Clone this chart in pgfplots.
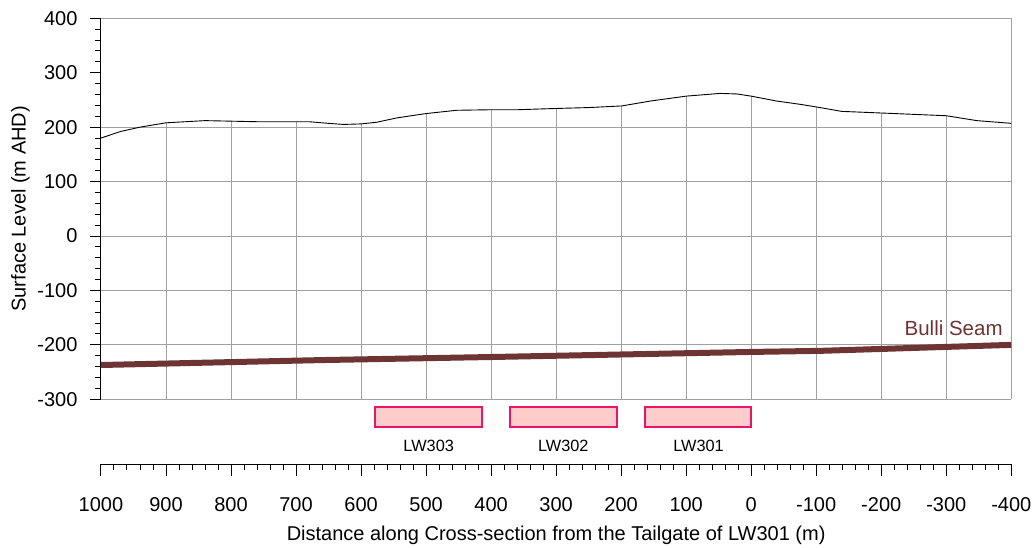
\documentclass[border=0pt]{standalone}
\usepackage{pgfplots}
\pgfplotsset{compat=1.18}
\usepackage{pgfplotstable}
\usepackage{fontspec}
\setmainfont{Liberation Sans}
\definecolor{seam}{RGB}{110,52,52}
\definecolor{lwedge}{RGB}{235,20,105}
\definecolor{lwfill}{RGB}{255,204,204}
\definecolor{gridc}{RGB}{160,160,160}

\pgfplotstableread{
x y
1000 180
970 192
940 200
900 208
840 212
800 211
760 210
700 210
680 210
650 207
627 205
600 206
576 209
545 217
500 225
453 231
400 232
360 232
309 234
250 236
199 239
155 248
100 257
48 262
22 261
0 257
-39 248
-75 242
-101 237
-139 229
-200 226
-300 221
-347 212
-400 207
}\surface

\pgfplotstableread{
x y
1000 -237
663 -228
386 -222
0 -213
-106 -211
-400 -200
}\seamdata

\begin{document}
\begin{tikzpicture}[x=1pt,y=1pt]
\pgfplotsset{
  common/.style={scale only axis, width=910.3pt, height=381pt,
    xmin=-400, xmax=1000, x dir=reverse, ymin=-300, ymax=400,
    at={(101pt,145.7pt)}, anchor=south west},
  every tick label/.append style={font=\fontsize{20}{24}\selectfont},
  /pgf/number format/assume math mode=true,
  /pgf/number format/set thousands separator={},
}
% horizontal grid, frame and data
\begin{axis}[common, xtick={-400}, ytick={-300,-200,-100,0,100,200,400},
  xticklabels={}, yticklabels={}, major tick length=0pt, grid=major,
  grid style={gridc, line width=1pt}, axis line style={draw=none}, clip=false,
  unbounded coords=jump]
% vertical grid lines, from -300 up to the ground surface
\addplot[gridc, line width=1pt] coordinates {
 (900,-300) (900,208) (900,nan)
 (800,-300) (800,211) (800,nan)
 (700,-300) (700,210) (700,nan)
 (600,-300) (600,206) (600,nan)
 (500,-300) (500,225) (500,nan)
 (400,-300) (400,232) (400,nan)
 (300,-300) (300,234.3) (300,nan)
 (200,-300) (200,239) (200,nan)
 (100,-300) (100,257) (100,nan)
 (0,-300) (0,257) (0,nan)
 (-100,-300) (-100,237) (-100,nan)
 (-200,-300) (-200,226) (-200,nan)
 (-300,-300) (-300,221)
};
\addplot[black, line width=0.9pt] table {\surface};
\addplot[seam, line width=6pt, line join=round] table {\seamdata};
\addplot[draw=lwedge, fill=lwfill, line width=2pt] coordinates {(578,-313.5) (414,-313.5) (414,-350) (578,-350)} -- cycle;
\addplot[draw=lwedge, fill=lwfill, line width=2pt] coordinates {(371,-313.5) (207,-313.5) (207,-350) (371,-350)} -- cycle;
\addplot[draw=lwedge, fill=lwfill, line width=2pt] coordinates {(163,-313.5) (0,-313.5) (0,-350) (163,-350)} -- cycle;
\node[font=\fontsize{16.3}{19}\selectfont] at (axis cs:496,-386) {LW303};
\node[font=\fontsize{16.3}{19}\selectfont] at (axis cs:289,-386) {LW302};
\node[font=\fontsize{16.3}{19}\selectfont] at (axis cs:81,-386) {LW301};
\node[anchor=east, text=seam, font=\fontsize{20.5}{24}\selectfont, inner sep=0pt] at (axis cs:-387,-168.7) {Bulli Seam};
\end{axis}
% y axis
\begin{axis}[common, axis x line=none, axis y line*=left,
  ytick={-300,-200,...,400}, minor y tick num=4, tick align=outside,
  major tick length=11pt, minor tick length=6pt,
  axis line style={black, line width=1pt}, tick style={black, line width=1pt},
  yticklabel style={xshift=-9pt},
  ylabel={Surface Level (m AHD)},
  ylabel style={font=\fontsize{20}{24}\selectfont, at={(axis description cs:0,0.5)},
    anchor=base, yshift=75.3pt}]
\end{axis}
% x axis
\begin{axis}[scale only axis, width=910.3pt, height=10pt,
  xmin=-400, xmax=1000, x dir=reverse, ymin=0, ymax=1,
  at={(101pt,81pt)}, anchor=south west,
  axis y line=none, axis x line*=bottom,
  xtick={1000,900,...,-400}, minor x tick num=4, tick align=outside,
  major tick length=12pt, minor tick length=6pt,
  axis line style={black, line width=1pt}, tick style={black, line width=1pt},
  xticklabel style={yshift=-17.5pt},
  xlabel={Distance along Cross-section from the Tailgate of LW301 (m)},
  xlabel style={font=\fontsize{20}{24}\selectfont, at={(axis description cs:0.5,0)},
    anchor=base, yshift=-76pt}]
\end{axis}
\path (0,0) rectangle (1036,545);
\end{tikzpicture}
\end{document}
